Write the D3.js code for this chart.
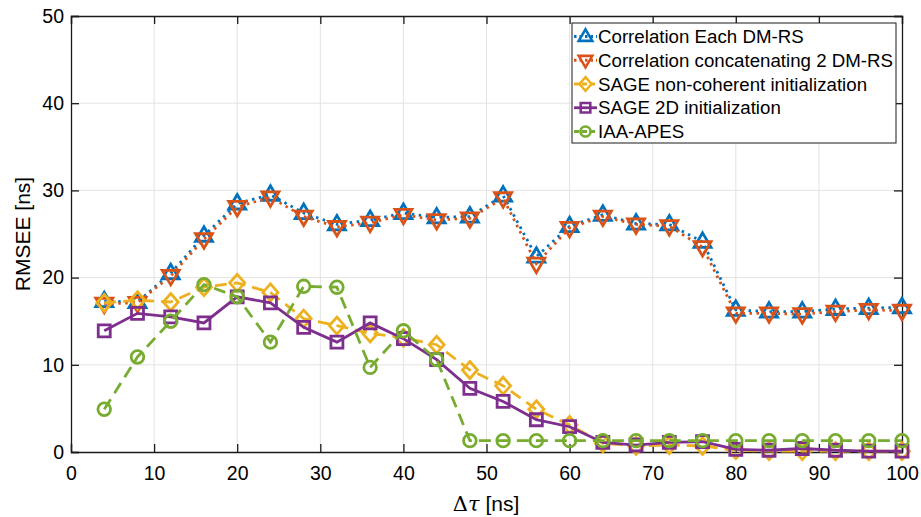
<!DOCTYPE html>
<html>
<head>
<meta charset="utf-8">
<script src="https://cdn.jsdelivr.net/npm/d3@7"></script>
<style>
  body { margin: 0; background: #fff; }
  svg { display: block; font-family: "Liberation Sans", Arial, Helvetica, sans-serif; }
</style>
</head>
<body>
<svg id="chart" width="921" height="517"></svg>
<script>
// Delay values on the x axis [ns]
const delays = [4, 8, 12, 16, 20, 24, 28, 32, 36, 40, 44, 48, 52, 56, 60, 64, 68, 72, 76, 80, 84, 88, 92, 96, 100];

// RMSEE per method [ns]
const corrEach = [17.3, 17.2, 20.5, 24.8, 28.5, 29.5, 27.4, 26.1, 26.6, 27.4, 26.9, 27.0, 29.4, 22.4, 25.9, 27.2, 26.2, 26.1, 24.1, 16.3, 16.1, 16.1, 16.4, 16.5, 16.6];
const corrConcat = [17.0, 17.1, 20.2, 24.4, 28.1, 29.2, 27.0, 25.8, 26.3, 27.2, 26.6, 26.8, 29.1, 21.6, 25.7, 27.0, 26.1, 25.9, 23.5, 15.9, 15.9, 15.8, 16.1, 16.3, 16.2];
const sageNonCoherent = [17.1, 17.4, 17.2, 18.9, 19.4, 18.3, 15.3, 14.5, 13.6, 13.1, 12.3, 9.4, 7.6, 4.9, 3.1, 1.0, 0.7, 0.8, 0.7, 0.2, 0.1, 0.1, 0.1, 0.1, 0.1];
const sage2D = [13.9, 15.9, 15.5, 14.8, 17.8, 17.1, 14.3, 12.6, 14.8, 13.0, 10.6, 7.3, 5.8, 3.7, 2.9, 1.1, 0.8, 1.1, 1.2, 0.3, 0.2, 0.4, 0.2, 0.1, 0.1];
const iaaApes = [4.9, 10.9, 15.0, 19.2, 17.8, 12.6, 19.0, 18.9, 9.7, 13.9, 10.6, 1.3, 1.3, 1.3, 1.3, 1.3, 1.3, 1.3, 1.3, 1.3, 1.3, 1.3, 1.3, 1.3, 1.3];

const seriesNames = [
  "Correlation Each DM-RS",
  "Correlation concatenating 2 DM-RS",
  "SAGE non-coherent initialization",
  "SAGE 2D initialization",
  "IAA-APES"
];

const xTicks = [0, 10, 20, 30, 40, 50, 60, 70, 80, 90, 100];
const yTicks = [0, 10, 20, 30, 40, 50];

// Styling per series (MATLAB default palette)
const styles = [
  { color: "#0072BD", dash: "2.5,4.5", marker: "up" },
  { color: "#D95319", dash: "2.5,4.5", marker: "down" },
  { color: "#EDB120", dash: "12,7", marker: "diamond" },
  { color: "#7E2F8E", dash: null, marker: "square" },
  { color: "#77AC30", dash: "12,7", marker: "circle" }
];
const values = [corrEach, corrConcat, sageNonCoherent, sage2D, iaaApes];

const series = seriesNames.map((name, i) => ({
  name,
  ...styles[i],
  points: delays.map((d, j) => ({ x: d, y: values[i][j] }))
}));

// Layout
const svg = d3.select("#chart");
const mLeft = 71, mRight = 902, mTop = 16, mBottom = 452;

const x = d3.scaleLinear().domain([0, 100]).range([mLeft, mRight]);
const y = d3.scaleLinear().domain([0, 50]).range([mBottom, mTop]);

// Grid
const grid = svg.append("g").attr("stroke", "#e3e3e3").attr("stroke-width", 1);
grid.selectAll("line.v")
  .data(xTicks.slice(1, -1))
  .join("line")
  .attr("class", "v")
  .attr("x1", (d) => x(d)).attr("x2", (d) => x(d))
  .attr("y1", mTop).attr("y2", mBottom);
grid.selectAll("line.h")
  .data(yTicks.slice(1, -1))
  .join("line")
  .attr("class", "h")
  .attr("x1", mLeft).attr("x2", mRight)
  .attr("y1", (d) => y(d)).attr("y2", (d) => y(d));

// Axes (ticks inward, box on)
const tickLen = 8;
const axisX = svg.append("g").attr("transform", `translate(0,${mBottom})`)
  .call(d3.axisBottom(x).tickValues(xTicks).tickSize(-tickLen).tickPadding(14));
const axisXTop = svg.append("g").attr("transform", `translate(0,${mTop})`)
  .call(d3.axisTop(x).tickValues(xTicks).tickSize(-tickLen).tickFormat(""));
const axisY = svg.append("g").attr("transform", `translate(${mLeft},0)`)
  .call(d3.axisLeft(y).tickValues(yTicks).tickSize(-tickLen).tickPadding(7));
const axisYRight = svg.append("g").attr("transform", `translate(${mRight},0)`)
  .call(d3.axisRight(y).tickValues(yTicks).tickSize(-tickLen).tickFormat(""));

[axisX, axisXTop, axisY, axisYRight].forEach((a) => {
  a.select(".domain").attr("stroke", "#1a1a1a").attr("stroke-width", 1.3);
  a.selectAll(".tick line").attr("stroke", "#1a1a1a").attr("stroke-width", 1.3);
  a.selectAll("text")
    .attr("font-family", "Liberation Sans, Arial, sans-serif")
    .attr("font-size", 19.5)
    .attr("fill", "#000");
});

// Markers
function markerPath(type) {
  switch (type) {
    case "up": return "M0,-9L8.5,5.5L-8.5,5.5Z";
    case "down": return "M0,9L8.5,-5.5L-8.5,-5.5Z";
    case "diamond": return "M0,-8.5L7.5,0L0,8.5L-7.5,0Z";
    case "square": return "M-6,-6H6V6H-6Z";
    default: return "M6.3,0A6.3,6.3 0 1,1 -6.3,0A6.3,6.3 0 1,1 6.3,0Z";
  }
}

const line = d3.line().x((d) => x(d.x)).y((d) => y(d.y));

const plot = svg.append("g");
series.forEach((s) => {
  const g = plot.append("g");
  g.append("path")
    .datum(s.points)
    .attr("fill", "none")
    .attr("stroke", s.color)
    .attr("stroke-width", 2.8)
    .attr("stroke-dasharray", s.dash)
    .attr("d", line);
  g.selectAll("path.mk")
    .data(s.points)
    .join("path")
    .attr("class", "mk")
    .attr("transform", (d) => `translate(${x(d.x)},${y(d.y)})`)
    .attr("d", markerPath(s.marker))
    .attr("fill", "none")
    .attr("stroke", s.color)
    .attr("stroke-width", 2.8);
});

// Legend
const legend = svg.append("g").attr("transform", "translate(572,23)");
legend.append("rect")
  .attr("width", 324).attr("height", 120)
  .attr("fill", "#fff").attr("stroke", "#1a1a1a").attr("stroke-width", 1);
const rowH = 23.75;
const item = legend.selectAll("g.item")
  .data(series)
  .join("g")
  .attr("class", "item")
  .attr("transform", (d, i) => `translate(0,${13.5 + i * rowH})`);
item.append("line")
  .attr("x1", 2).attr("x2", 25)
  .attr("stroke", (d) => d.color)
  .attr("stroke-width", 2.8)
  .attr("stroke-dasharray", (d) => (d.dash ? (d.dash === "12,7" ? "5,3" : "2.5,3") : null));
item.append("path")
  .attr("transform", "translate(13.5,0) scale(0.8)")
  .attr("d", (d) => markerPath(d.marker))
  .attr("fill", "none")
  .attr("stroke", (d) => d.color)
  .attr("stroke-width", 3.2);
item.append("text")
  .attr("x", 26)
  .attr("dy", "0.36em")
  .attr("font-size", 18.7)
  .attr("fill", "#000")
  .text((d) => d.name);

// Axis labels
const xl = svg.append("text")
  .attr("x", 486).attr("y", 511)
  .attr("text-anchor", "middle")
  .attr("font-size", 21)
  .attr("fill", "#000");
xl.append("tspan").attr("font-family", "DejaVu Serif, serif").text("Δ");
xl.append("tspan").attr("font-family", "DejaVu Serif, serif").attr("font-style", "italic").text("τ");
xl.append("tspan").text(" [ns]");

svg.append("text")
  .attr("transform", `translate(30,${(mTop + mBottom) / 2}) rotate(-90)`)
  .attr("text-anchor", "middle")
  .attr("font-size", 21)
  .attr("fill", "#000")
  .text("RMSEE [ns]");
</script>
</body>
</html>
